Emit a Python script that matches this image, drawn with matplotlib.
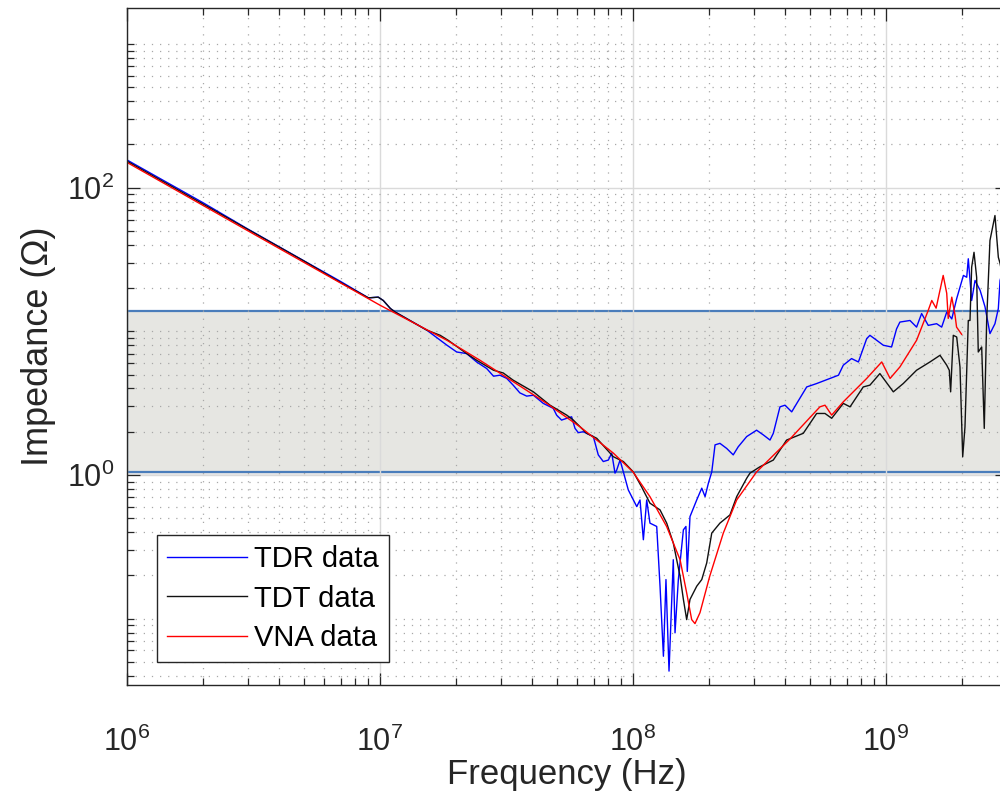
import numpy as np
import matplotlib
matplotlib.use('Agg')
import matplotlib.pyplot as plt
from matplotlib.ticker import LogLocator, NullFormatter

plt.rcParams['font.family'] = ['Liberation Sans', 'DejaVu Sans']
plt.rcParams['mathtext.fontset'] = 'custom'
plt.rcParams['mathtext.rm'] = 'Liberation Sans'

# values (frequency in MHz, impedance in ohm)
tdr_freq_mhz = [1, 2, 3, 5, 7, 9.0, 9.84, 10.3, 11.0, 11.5, 15.3, 18.4, 20.1, 22.0, 24.1, 26.4, 28.1,
                29.8, 31.7, 33.6, 35.7, 38.0, 40.4, 44.2, 48.4, 49.9, 52.2, 54.7, 57.2, 59.0, 60.8, 63.6,
                69.7, 72.9, 76.3, 79.9, 82.4, 84.9, 86.2, 88.9, 91.6, 95.8, 103.5, 106.6, 109.9, 113.3,
                116.7, 124.1, 127.9, 131.9, 135.0, 138.8, 144.3, 146.6, 151.1, 158.2, 161.9, 163.9, 168,
                178.6, 187, 192.7, 198.6, 204.8, 211, 220.6, 234.6, 249, 260.5, 281.4, 308, 327.5, 348,
                358.6, 381, 399, 424, 444, 486, 532, 601, 649, 678, 731, 778, 839, 864, 919, 976, 1052,
                1101, 1135, 1244, 1321, 1383, 1469, 1585, 1660, 1738, 1820, 1903, 2023, 2085, 2115, 2181,
                2249, 2355, 2463, 2576, 2696, 2780, 2824, 2950]
tdr_z = [156, 78.5, 51.6, 31.0, 22.2, 17.1, 17.3, 16.4, 14.4, 13.6, 10.2, 8.0, 7.18, 7.0, 6.12, 5.51, 4.87,
         4.95, 4.70, 4.22, 3.73, 3.54, 3.59, 3.15, 2.91, 2.61, 2.41, 2.48, 2.54, 2.11, 1.97, 2.0,
         1.85, 1.38, 1.24, 1.27, 1.42, 1.03, 1.08, 1.27, 1.05, 0.787, 0.602, 0.670, 0.354, 0.670,
         0.462, 0.438, 0.168, 0.0547, 0.187, 0.0431, 0.257, 0.0796, 0.187, 0.415, 0.438, 0.213, 0.513,
         0.670, 0.809, 0.707, 0.876, 1.05, 1.62, 1.66, 1.53, 1.38, 1.57, 1.85, 2.05, 1.90, 1.75,
         1.95, 2.98, 3.06, 2.75, 3.15, 4.10, 4.33, 4.70, 4.95, 5.81, 6.46, 6.12, 8.90, 9.38, 8.66, 8.0, 7.78,
         10.4, 11.6, 11.9, 10.7, 13.3, 11.0, 11.3, 10.7, 13.6, 12.2, 16.9, 24.5, 23.8, 32.0, 16.4,
         22.6, 19.3, 14.8, 9.64, 11.3, 14.4, 22.6, 30]

tdt_freq_mhz = [1, 2, 3, 5, 6.95, 9.0, 9.84, 10.3, 11.0, 11.5, 15.3, 17.3, 18.6, 22.0, 24.1, 28.1, 30.7,
                33.6, 40.4, 47.0, 54.7, 58.1, 65.6, 71.9, 83.6, 91.6, 100.3, 108, 116.7, 127.9, 135.9,
                144.3, 153.5, 158.2, 163, 168, 178.6, 187, 195.6, 204.8, 220.6, 241.7, 256.9, 281.4, 290,
                317.5, 358.6, 404.9, 471, 532, 574, 610, 678, 721, 813, 864, 946, 1069, 1170, 1321, 1492,
                1635, 1738, 1779, 1801, 1845, 1903, 1961, 2010, 2052, 2115, 2148, 2181, 2228, 2282, 2316,
                2389, 2446, 2500, 2576, 2696, 2780, 2824, 2950]
tdt_z = [153, 76.8, 51.3, 30.9, 22.0, 17.1, 17.3, 16.4, 14.4, 13.6, 10.2, 9.38, 8.66, 7.0, 6.29, 5.36, 5.13,
         4.57, 3.79, 3.06, 2.61, 2.41, 1.95, 1.80, 1.34, 1.24, 1.05, 0.830, 0.636, 0.571, 0.462,
         0.336, 0.197, 0.136, 0.0984, 0.136, 0.168, 0.187, 0.244, 0.394, 0.462, 0.527, 0.706, 0.948, 1.03,
         1.14, 1.27, 1.75, 1.95, 2.68, 2.68, 2.48, 3.15, 2.98, 4.10, 4.22, 5.08, 3.79, 4.33, 5.36, 6.12,
         6.81, 5.81, 5.36, 3.79, 9.38, 9.13, 5.65, 1.34, 2.16, 11.9, 11.9, 28.0, 35.5, 23.8, 7.18,
         7.78, 2.11, 11.9, 42.9, 64.0, 32.8, 29.7, 20]

vna_freq_mhz = [1, 3, 10, 18.4, 24.8, 33.7, 45.6, 61.8, 83.6, 100, 116.7, 135.8, 153.5, 163, 170.6, 175.8,
                184, 201, 227.5, 257, 308, 420, 548, 574, 610, 678, 839, 962, 1038, 1135, 1321, 1469,
                1517, 1578, 1683, 1738, 1762, 1820, 1875, 1901, 1991]
vna_z = [150, 50.2, 15.2, 8.66, 6.30, 4.45, 3.15, 2.16, 1.42, 1.05, 0.706, 0.438, 0.257, 0.151, 0.0984, 0.0923,
         0.110, 0.197, 0.394, 0.670, 1.05, 1.80, 2.98, 3.06, 2.61, 3.23, 4.70, 6.12, 4.70, 5.65, 8.66, 14.0,
         16.4, 14.5, 24.5, 18.4, 12.3, 17.3, 12.9, 10.7, 9.53]

# shaded target band (ohm)
band_low = 1.054
band_high = 13.86

dark = '#262626'

fig = plt.figure(figsize=(10, 7.94), dpi=100)
ax = fig.add_axes([0.127, 0.1373, 0.8797, 0.8526])

ax.axhspan(0.985, band_low, facecolor='#d8d8d8', edgecolor='none', alpha=0.6, zorder=0.9)
ax.axhspan(band_low, band_high, facecolor='#e6e6e2', edgecolor='#4a7dbb', lw=1.6, zorder=1)

ax.plot(np.array(tdr_freq_mhz) * 1e6, tdr_z, color='#0000ff', lw=1.0, label='TDR data')
ax.plot(np.array(tdt_freq_mhz) * 1e6, tdt_z, color='#111111', lw=1.0, label='TDT data')
ax.plot(np.array(vna_freq_mhz) * 1e6, vna_z, color='#ff0000', lw=1.0, label='VNA data')

ax.set_xscale('log')
ax.set_yscale('log')
ax.set_xlim(1e6, 3e9)
ax.set_ylim(0.0345, 1782)

ax.xaxis.set_major_locator(LogLocator(base=10, numticks=20))
ax.xaxis.set_minor_locator(LogLocator(base=10, subs=np.arange(2, 10), numticks=50))
ax.yaxis.set_major_locator(LogLocator(base=100, numticks=20))
ax.yaxis.set_minor_locator(LogLocator(base=10, subs=np.arange(1, 10), numticks=50))
ax.xaxis.set_minor_formatter(NullFormatter())
ax.yaxis.set_minor_formatter(NullFormatter())

ax.grid(True, which='major', color='#dadada', lw=1.0, ls='-')
ax.grid(True, which='minor', color='#a8a8a8', lw=0.9, ls=(0, (1, 5.5)))

for s in ax.spines.values():
    s.set_color(dark)
    s.set_linewidth(1.0)

ax.tick_params(which='both', direction='in', top=True, right=True, colors=dark, width=0.9)
ax.tick_params(which='major', length=9, labelsize=22)
ax.tick_params(which='minor', length=5)
ax.tick_params(axis='x', which='major', pad=30)
ax.tick_params(axis='y', which='major', pad=9)

ax.set_xlabel('Frequency (Hz)', fontsize=25, color=dark, labelpad=0)
ax.set_ylabel('Impedance (Ω)', fontsize=26, color=dark, labelpad=8)

leg = ax.legend(loc='upper left', bbox_to_anchor=(0.0341, 0.2216), fontsize=21, frameon=True,
                fancybox=False, edgecolor=dark, framealpha=1, borderaxespad=0, handlelength=2.75,
                handletextpad=0.25, labelspacing=0.4, borderpad=0.34)
leg.get_frame().set_linewidth(1.0)

fig.savefig('out.png', dpi=100)
